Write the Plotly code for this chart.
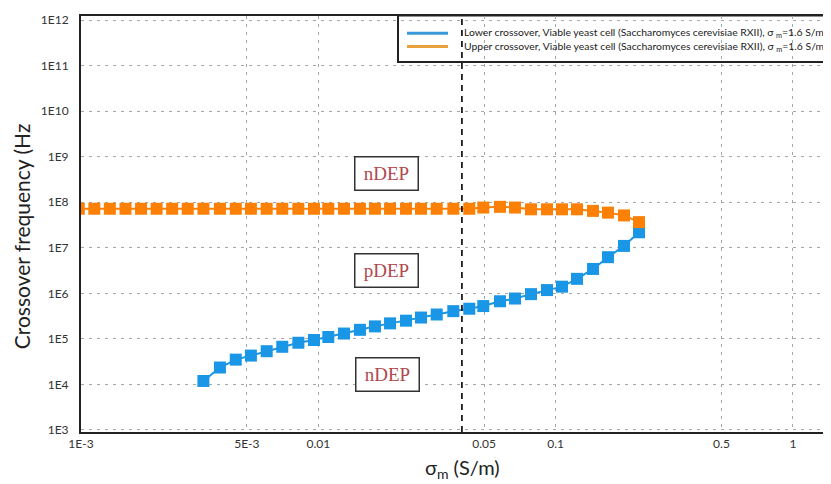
import math
import plotly.graph_objects as go

# ---- data ----
sigma_lower = [0.00328, 0.00385, 0.00449, 0.00520, 0.00606, 0.00705, 0.00824, 0.00959,
               0.01102, 0.01283, 0.01498, 0.01733, 0.02006, 0.02342, 0.02709, 0.03155,
               0.03707, 0.04328, 0.04958, 0.05831, 0.06745, 0.07876, 0.0920, 0.1064,
               0.1231, 0.1438, 0.1663, 0.1942, 0.2246]
f_lower = [1.19e4, 2.35e4, 3.50e4, 4.30e4, 5.36e4, 6.70e4, 8.22e4, 9.45e4,
           1.10e5, 1.31e5, 1.58e5, 1.88e5, 2.19e5, 2.51e5, 2.94e5, 3.43e5,
           4.06e5, 4.59e5, 5.25e5, 6.70e5, 7.69e5, 9.60e5, 1.18e6, 1.40e6,
           2.08e6, 3.43e6, 6.22e6, 1.10e7, 2.19e7]

sigma_upper = [0.000979, 0.001138, 0.001323, 0.001540, 0.001791, 0.002083, 0.002422, 0.002817,
               0.00328, 0.00385, 0.00449, 0.00520, 0.00606, 0.00705, 0.00824, 0.00959,
               0.01102, 0.01283, 0.01498, 0.01733, 0.02006, 0.02342, 0.02709, 0.03155,
               0.03707, 0.04328, 0.04958, 0.05831, 0.06745, 0.07876, 0.0920, 0.1064,
               0.1231, 0.1438, 0.1663, 0.1942, 0.2246]
f_upper = [7.2e7, 7.2e7, 7.2e7, 7.2e7, 7.2e7, 7.2e7, 7.2e7, 7.2e7,
           7.2e7, 7.2e7, 7.2e7, 7.2e7, 7.2e7, 7.2e7, 7.2e7, 7.2e7,
           7.2e7, 7.2e7, 7.2e7, 7.2e7, 7.2e7, 7.2e7, 7.2e7, 7.2e7,
           7.2e7, 7.2e7, 7.65e7, 7.93e7, 7.65e7, 7.0e7, 7.0e7, 7.0e7,
           7.0e7, 6.46e7, 5.92e7, 5.14e7, 3.66e7]

x_tickvals = [0.001, 0.005, 0.01, 0.05, 0.1, 0.5, 1]
x_ticktext = ["1E-3", "5E-3", "0.01", "0.05", "0.1", "0.5", "1"]
y_tickvals = [1e3, 1e4, 1e5, 1e6, 1e7, 1e8, 1e9, 1e10, 1e11, 1e12]
y_ticktext = ["1E3", "1E4", "1E5", "1E6", "1E7", "1E8", "1E9", "1E10", "1E11", "1E12"]

sigma_ref = 0.0403  # dashed reference line
region_text = ["nDEP", "pDEP", "nDEP"]
region_sigma = [0.0193, 0.0193, 0.0196]
region_freq = [4.2e8, 3.14e6, 1.64e4]

legend_labels = [
    "Lower crossover, Viable yeast cell (Saccharomyces cerevisiae RXII), σ <sub>m</sub>=1.6 S/m",
    "Upper crossover, Viable yeast cell (Saccharomyces cerevisiae RXII), σ <sub>m</sub>=1.6 S/m",
]

BLUE = "#1A96E6"
ORANGE = "#FB8005"
FONT = "Lato, Open Sans, sans-serif"

fig = go.Figure()
fig.add_trace(go.Scatter(x=sigma_lower, y=f_lower, mode="lines+markers",
                         line=dict(color=BLUE, width=2),
                         marker=dict(symbol="square", size=12, color=BLUE),
                         showlegend=False))
fig.add_trace(go.Scatter(x=sigma_upper, y=f_upper, mode="lines+markers",
                         line=dict(color=ORANGE, width=2),
                         marker=dict(symbol="square", size=12, color=ORANGE),
                         showlegend=False))

# dashed vertical reference line
fig.add_shape(type="line", xref="x", yref="paper", x0=sigma_ref, x1=sigma_ref, y0=0, y1=1,
              line=dict(color="black", width=1.6, dash="6px,5px"), layer="above")

# region labels (annotation positions on log axes are given in log10 units)
for txt, xv, yv in zip(region_text, region_sigma, region_freq):
    fig.add_annotation(x=math.log10(xv), y=math.log10(yv), xref="x", yref="y", text=txt,
                       showarrow=False, xanchor="center", yanchor="middle",
                       font=dict(family="Liberation Serif, Times New Roman, serif", size=19,
                                 color="#B0484D"),
                       width=58, height=28, borderpad=2, bordercolor="#333333", borderwidth=1.5,
                       bgcolor="white")

# page coordinates -> paper coordinates (plot area spans x 81..831, y 16..424 on the page)
PX0, PW, PY1, PH = 81, 750, 424, 408
def pxx(p):
    return (p - PX0) / PW
def pyy(p):
    return (PY1 - p) / PH

# manual legend
fig.add_shape(type="rect", xref="paper", yref="paper", x0=pxx(398), x1=pxx(845),
              y0=pyy(61), y1=pyy(15.5), line=dict(color="#222222", width=2),
              fillcolor="white", layer="below")
legend_colors = ["#3A9AD9", "#E9A23B"]
rows = [33, 46]
for lbl, col, r in zip(legend_labels, legend_colors, rows):
    fig.add_shape(type="line", xref="paper", yref="paper", x0=pxx(407), x1=pxx(448),
                  y0=pyy(r), y1=pyy(r), line=dict(color=col, width=3))
    fig.add_annotation(x=pxx(462), y=pyy(r), xref="paper", yref="paper", text=lbl,
                       showarrow=False, xanchor="left", yanchor="middle",
                       font=dict(family=FONT, size=10.4, color="#222222"))

# axis titles
fig.add_annotation(x=pxx(21), y=pyy(232), xref="paper", yref="paper",
                   text="Crossover frequency (Hz", showarrow=False, textangle=-90,
                   xanchor="center", yanchor="middle",
                   font=dict(family=FONT, size=21, color="#222222"))
fig.add_annotation(x=pxx(462), y=pyy(460), xref="paper", yref="paper",
                   text="σ<sub>m</sub> (S/m)", showarrow=False,
                   xanchor="center", yanchor="middle",
                   font=dict(family=FONT, size=20, color="#222222"))

fig.update_xaxes(type="log", range=[-3, 0.1606], tickvals=x_tickvals, ticktext=x_ticktext,
                 showgrid=True, gridcolor="#9AABAD", gridwidth=1, griddash="3px,5px",
                 showline=True, linecolor="#222222", linewidth=2, mirror=True,
                 ticks="", zeroline=False,
                 tickfont=dict(family=FONT, size=12, color="#333333"))
fig.update_yaxes(type="log", range=[2.955, 12.09], tickvals=y_tickvals, ticktext=y_ticktext,
                 showgrid=True, gridcolor="#A6A6A6", gridwidth=1, griddash="3px,5px",
                 showline=True, linecolor="#222222", linewidth=2, mirror=False,
                 ticks="", zeroline=False, ticklabelstandoff=8,
                 tickfont=dict(family=FONT, size=12, color="#333333"))

# the page body adds an 8px offset, so the figure is 8px smaller and margins shifted
fig.update_layout(width=823, height=476, margin=dict(l=73, r=0, t=8, b=52),
                  plot_bgcolor="white", paper_bgcolor="white", showlegend=False)

fig.write_html("out.html")
